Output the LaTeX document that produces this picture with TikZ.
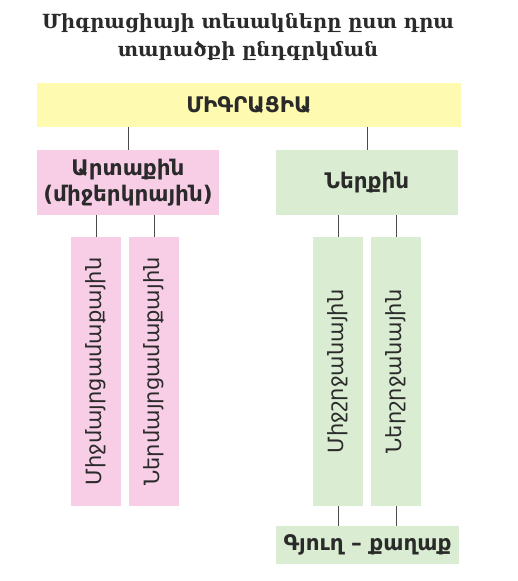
\documentclass[tikz,border=0pt]{standalone}
\usepackage{fontspec}
\setmainfont{DejaVu Sans}
\newfontfamily\titlefont{DejaVu Serif}
\definecolor{yel}{HTML}{FEFAAF}
\definecolor{pnk}{HTML}{F8CDE6}
\definecolor{grn}{HTML}{DAEDD2}
\definecolor{ink}{HTML}{2A2A2A}
\begin{document}
\begin{tikzpicture}[x=1pt,y=-1pt,
  box/.style={inner sep=0pt, align=center, text=ink, font=\bfseries\fontsize{21.5}{26.5}\selectfont},
  vbox/.style={inner sep=0pt, minimum width=50pt, minimum height=269pt},
  vtext/.style={rotate=90, inner sep=0pt, text=ink, font=\fontsize{21}{24}\selectfont},
  conn/.style={draw=ink!85, line width=0.8pt}]
\useasboundingbox (0,0) rectangle (518,581);
\node[text=ink, align=center, font=\titlefont\bfseries\fontsize{19.5}{28}\selectfont] (title) at (248,37)
  {Միգրացիայի տեսակները ըստ դրա\\տարածքի ընդգրկման};
\node[box, fill=yel, minimum width=424pt, minimum height=44pt] (mig) at (249,105) {ՄԻԳՐԱՑԻԱ};
\node[box, fill=pnk, minimum width=182pt, minimum height=65pt] (ext) at (128,182.5) {Արտաքին\\(միջերկրային)};
\node[box, fill=grn, minimum width=182pt, minimum height=65pt] (int) at (367,182.5) {Ներքին};
\node[vbox, fill=pnk] (v1) at (96,371.5) {};
\node[vbox, fill=pnk] (v2) at (154,371.5) {};
\node[vbox, fill=grn] (v3) at (338,371.5) {};
\node[vbox, fill=grn] (v4) at (396,371.5) {};
\node[vtext] (t1) at (v1.center) {Միջմայրցամաքային};
\node[vtext] (t2) at (v2.center) {Ներմայրցամաքային};
\node[vtext] (t3) at (v3.center) {Միջշրջանային};
\node[vtext] (t4) at (v4.center) {Ներշրջանային};
\node[box, fill=grn, minimum width=183pt, minimum height=38pt] (bot) at (367.5,545) {Գյուղ – քաղաք};
\draw[conn] (ext.north |- mig.south) -- (ext.north);
\draw[conn] (int.north |- mig.south) -- (int.north);
\draw[conn] (v1.north |- ext.south) -- (v1.north);
\draw[conn] (v2.north |- ext.south) -- (v2.north);
\draw[conn] (v3.north |- int.south) -- (v3.north);
\draw[conn] (v4.north |- int.south) -- (v4.north);
\draw[conn] (v3.south) -- (v3.south |- bot.north);
\draw[conn] (v4.south) -- (v4.south |- bot.north);
\end{tikzpicture}
\end{document}
